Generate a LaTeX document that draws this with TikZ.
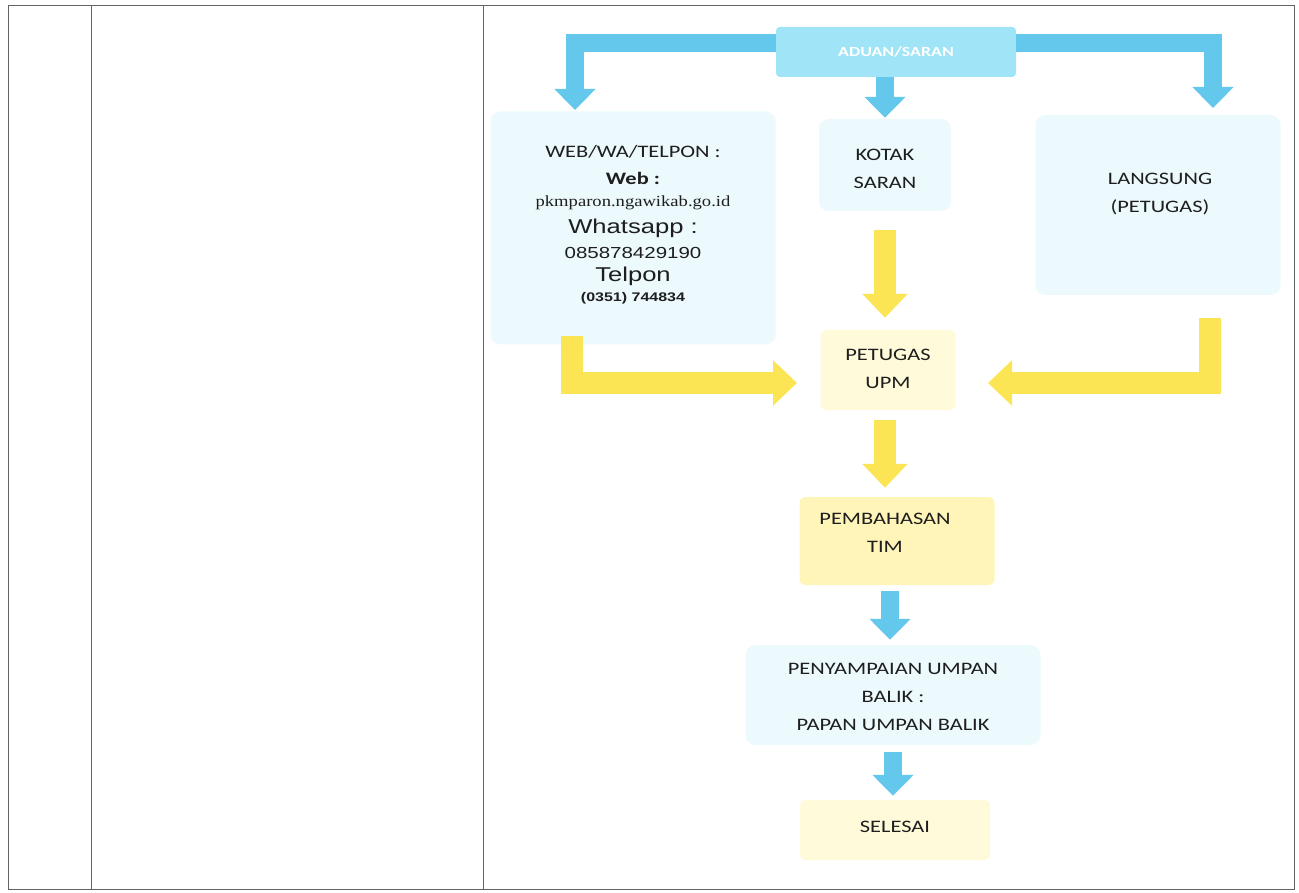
\documentclass[tikz,border=0pt]{standalone}
\usepackage{fontspec}
\setmainfont{Carlito}[FakeStretch=1.28]
\newfontfamily\arialf{Liberation Sans}[FakeStretch=1.28]
\newfontfamily\timesf{Liberation Serif}[FakeStretch=1.2]
\usetikzlibrary{arrows.meta}
\definecolor{gridline}{RGB}{95,100,100}
\definecolor{cyanA}{RGB}{100,200,236}
\definecolor{topfill}{RGB}{160,228,247}
\definecolor{lcyan}{RGB}{236,249,253}
\definecolor{yelA}{RGB}{251,229,85}
\definecolor{lyel}{RGB}{255,250,218}
\definecolor{myel}{RGB}{255,245,185}
\definecolor{ink}{RGB}{30,30,30}
\tikzset{
  grid/.style={draw=gridline, line width=1pt},
  boxc/.style={rectangle, rounded corners=10pt, fill=lcyan, draw=none, inner sep=0pt},
  boxy/.style={rectangle, rounded corners=6pt, fill=lyel, draw=none, inner sep=0pt},
  lbl/.style={text=ink, align=center, inner sep=0pt, font=\fontsize{17.5}{28}\selectfont},
  cyanarrow/.style={draw=cyanA, line width=18pt, line cap=butt, line join=miter,
     -{Triangle[length=21pt,width=40pt]}},
  yelarrow/.style={draw=yelA, line width=22pt, line cap=butt, line join=miter,
     -{Triangle[length=24pt,width=44pt]}},
}
\begin{document}
\begin{tikzpicture}[x=1pt,y=-1pt]
\useasboundingbox (0,0) rectangle (1299,893);
\fill[white] (0,0) rectangle (1299,893);
% table
\draw[grid] (8,6) rectangle (1294,889);
\draw[grid] (91,6) -- (91,889);
\draw[grid] (483,6) -- (483,889);

% boxes
\node[boxc, minimum width=285pt, minimum height=233pt] (web) at (633,228) {};
\node[boxc, minimum width=132pt, minimum height=92pt] (kotak) at (885,165) {};
\node[boxc, minimum width=245pt, minimum height=180pt] (langsung) at (1158,205) {};
\node[boxy, minimum width=135pt, minimum height=80pt] (petugas) at (888,370) {};
\node[boxy, fill=myel, minimum width=195pt, minimum height=88pt] (pembahasan) at (897,541) {};
\node[boxc, minimum width=295pt, minimum height=100pt] (penyampaian) at (893,695) {};
\node[boxy, minimum width=190pt, minimum height=60pt] (selesai) at (895,830) {};
\node[rectangle, rounded corners=4pt, fill=topfill, minimum width=240pt, minimum height=50pt,
      text=white, font=\bfseries\fontsize{14}{16}\selectfont] (top) at (896,52) {ADUAN/SARAN};

% texts
\node[lbl] (w1) at (633,152) {WEB/WA/TELPON :};
\node[lbl, font=\bfseries\fontsize{17.5}{20}\selectfont] (w2) at (633,178) {Web :};
\node[lbl, font=\timesf\fontsize{15.5}{18}\selectfont] (w3) at (633,203) {pkmparon.ngawikab.go.id};
\node[lbl, font=\arialf\fontsize{20}{22}\selectfont] (w4) at (633,228) {Whatsapp :};
\node[lbl, font=\arialf\fontsize{16}{18}\selectfont] (w5) at (633,253) {085878429190};
\node[lbl, font=\arialf\fontsize{20}{22}\selectfont] (w6) at (633,276) {Telpon};
\node[lbl, font=\arialf\bfseries\fontsize{12.5}{14}\selectfont] (w7) at (633,298) {(0351) 744834};

\node[lbl] (tk) at (885,169) {KOTAK\\SARAN};
\node[lbl] (tl) at (1160,194) {LANGSUNG\\(PETUGAS)};
\node[lbl] (tp) at (888,369) {PETUGAS\\UPM};
\node[lbl] (tb) at (885,533) {PEMBAHASAN\\TIM};
\node[lbl] (ts) at (893,697) {PENYAMPAIAN UMPAN\\BALIK :\\PAPAN UMPAN BALIK};
\node[lbl] (te) at (895,827) {SELESAI};

% connector end points
\coordinate (a1) at (575,110);
\coordinate (a3) at (1213,108);
\coordinate (y1s) at (572,336);
\coordinate (y1e) at (797,383);
\coordinate (y2s) at (1210,318);
\coordinate (y2e) at (988,383);

% cyan arrows from top box
\draw[cyanarrow] (top.west |- 0,43) -| (a1);
\draw[cyanarrow] (top.east |- 0,43) -| (a3);
\draw[cyanarrow, shorten >=1pt] (kotak.north |- top.south) -- (kotak.north);

% yellow arrows
\draw[yelarrow, shorten <=19pt, shorten >=12pt] (kotak.south) -- (kotak.south |- petugas.north);
\draw[yelarrow] (y1s) |- (y1e);
\draw[yelarrow] (y2s) |- (y2e);
\draw[yelarrow, shorten <=10pt, shorten >=9pt] (kotak.south |- petugas.south) -- (kotak.south |- pembahasan.north);

% cyan lower arrows
\draw[cyanarrow, shorten <=6pt, shorten >=5pt] (pembahasan.south -| 890,0) -- (penyampaian.north -| 890,0);
\draw[cyanarrow, shorten <=7pt, shorten >=4pt] (penyampaian.south) -- (selesai.north -| penyampaian.south);
\end{tikzpicture}
\end{document}
